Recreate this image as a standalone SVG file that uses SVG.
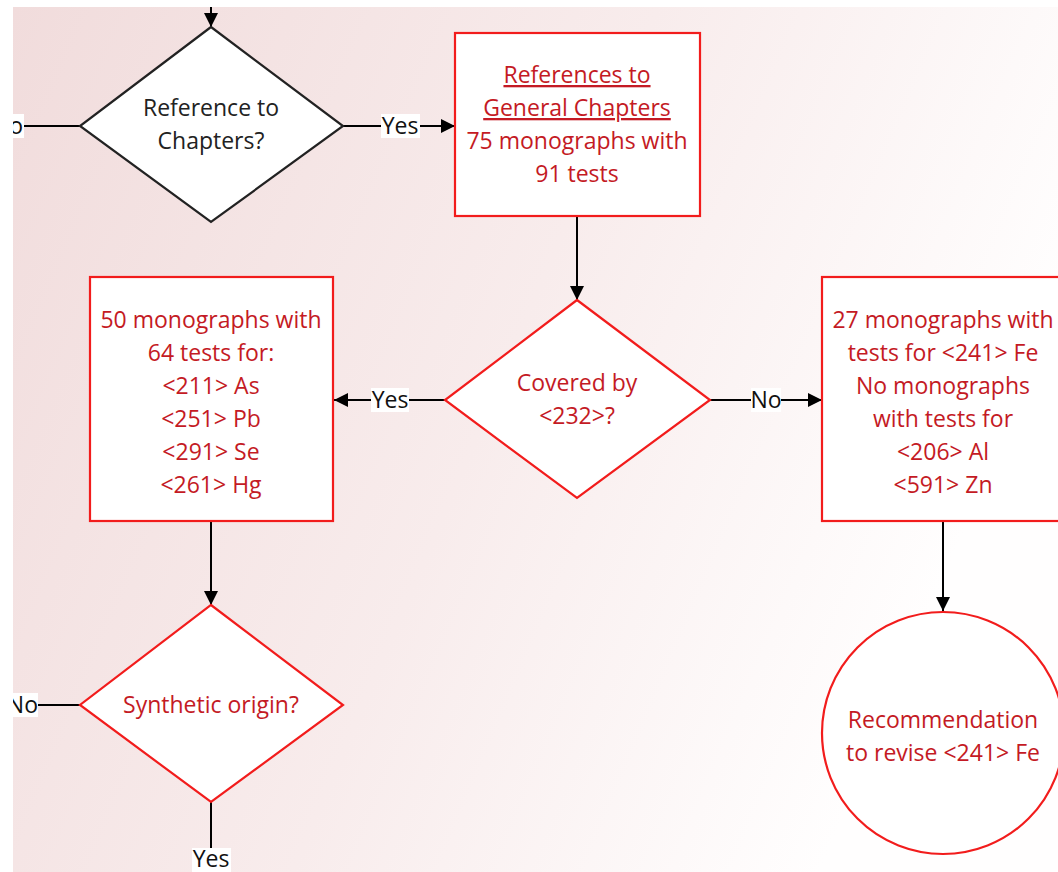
<svg xmlns="http://www.w3.org/2000/svg" width="1058" height="872" viewBox="0 0 1058 872">
  <defs>
    <linearGradient id="bg" x1="0" y1="0" x2="1" y2="0.35">
      <stop offset="0" stop-color="#f1dcdc"/>
      <stop offset="0.55" stop-color="#f8ecec"/>
      <stop offset="1" stop-color="#fffefe"/>
    </linearGradient>
    <clipPath id="page">
      <rect x="13" y="7" width="1045" height="865"/>
    </clipPath>
    <marker id="arrow" viewBox="0 0 14 14" refX="14" refY="7" markerWidth="14" markerHeight="14" markerUnits="userSpaceOnUse" orient="auto">
      <path d="M0,0 L14,7 L0,14 Z" fill="#000"/>
    </marker>
    <style>
      text { font-family: "Open Sans", "Liberation Sans", sans-serif; font-size: 23px; text-anchor: middle; }
      .red { fill: #c41a24; }
      .dark { fill: #222; }
      .shape-red { fill: #fff; stroke: #f21c1c; stroke-width: 2.2; }
      .shape-black { fill: #fff; stroke: #222; stroke-width: 2.2; }
      .conn { stroke: #000; stroke-width: 2; fill: none; }
      .lbl-bg { fill: #fff; }
      .lbl { fill: #111; }
    </style>
  </defs>

  <rect width="1058" height="872" fill="#fff"/>
  <g clip-path="url(#page)">
    <rect x="13" y="7" width="1045" height="865" fill="url(#bg)"/>

    <!-- connectors -->
    <g id="connectors">
      <line class="conn" x1="211" y1="0" x2="211" y2="27" marker-end="url(#arrow)"/>
      <line class="conn" x1="24" y1="126" x2="80" y2="126"/>
      <line class="conn" x1="343" y1="126" x2="455" y2="126" marker-end="url(#arrow)"/>
      <line class="conn" x1="577" y1="216" x2="577" y2="300" marker-end="url(#arrow)"/>
      <line class="conn" x1="445" y1="400" x2="334" y2="400" marker-end="url(#arrow)"/>
      <line class="conn" x1="710" y1="400" x2="822" y2="400" marker-end="url(#arrow)"/>
      <line class="conn" x1="211" y1="521" x2="211" y2="605" marker-end="url(#arrow)"/>
      <line class="conn" x1="943" y1="521" x2="943" y2="611" marker-end="url(#arrow)"/>
      <line class="conn" x1="38" y1="705" x2="80" y2="705"/>
      <line class="conn" x1="211" y1="802" x2="211" y2="848"/>

      <!-- connector labels -->
      <rect class="lbl-bg" x="0" y="114" width="24" height="24"/>
      <text class="lbl" x="23" y="134" style="text-anchor:end">No</text>
      <rect class="lbl-bg" x="381" y="114" width="39" height="24"/>
      <text class="lbl" x="400" y="134">Yes</text>
      <rect class="lbl-bg" x="371" y="388" width="38" height="24"/>
      <text class="lbl" x="390" y="408">Yes</text>
      <rect class="lbl-bg" x="751" y="388" width="30" height="24"/>
      <text class="lbl" x="766" y="408">No</text>
      <rect class="lbl-bg" x="10" y="693" width="28" height="24"/>
      <text class="lbl" x="38" y="713" style="text-anchor:end">No</text>
      <rect class="lbl-bg" x="192" y="848" width="39" height="24"/>
      <text class="lbl" x="211" y="867">Yes</text>
    </g>

    <!-- decision: reference to chapters -->
    <g id="node-reference">
      <polygon class="shape-black" points="211,27 343,126 211,222 80,126"/>
      <text class="dark" x="211" y="116">Reference to</text>
      <text class="dark" x="211" y="149">Chapters?</text>
    </g>

    <!-- general chapters box -->
    <g id="node-general-chapters">
      <rect class="shape-red" x="455" y="33" width="245" height="183"/>
      <text class="red" x="577" y="83" text-decoration="underline">References to</text>
      <text class="red" x="577" y="116" text-decoration="underline">General Chapters</text>
      <text class="red" x="577" y="149">75 monographs with</text>
      <text class="red" x="577" y="182">91 tests</text>
    </g>

    <!-- decision: covered by 232 -->
    <g id="node-covered">
      <polygon class="shape-red" points="577,300 710,400 577,498 445,400"/>
      <text class="red" x="577" y="391">Covered by</text>
      <text class="red" x="577" y="424">&lt;232&gt;?</text>
    </g>

    <!-- elements covered -->
    <g id="node-covered-tests">
      <rect class="shape-red" x="90" y="277" width="243" height="244"/>
      <text class="red" x="211" y="328">50 monographs with</text>
      <text class="red" x="211" y="361">64 tests for:</text>
      <text class="red" x="211" y="394">&lt;211&gt; As</text>
      <text class="red" x="211" y="427">&lt;251&gt; Pb</text>
      <text class="red" x="211" y="460">&lt;291&gt; Se</text>
      <text class="red" x="211" y="493">&lt;261&gt; Hg</text>
    </g>

    <!-- elements not covered -->
    <g id="node-not-covered">
      <rect class="shape-red" x="822" y="277" width="243" height="244"/>
      <text class="red" x="943" y="328">27 monographs with</text>
      <text class="red" x="943" y="361">tests for &lt;241&gt; Fe</text>
      <text class="red" x="943" y="394">No monographs</text>
      <text class="red" x="943" y="427">with tests for</text>
      <text class="red" x="943" y="460">&lt;206&gt; Al</text>
      <text class="red" x="943" y="493">&lt;591&gt; Zn</text>
    </g>

    <!-- decision: synthetic origin -->
    <g id="node-synthetic">
      <polygon class="shape-red" points="211,605 343,705 211,802 80,705"/>
      <text class="red" x="211" y="713">Synthetic origin?</text>
    </g>

    <!-- recommendation -->
    <g id="node-recommendation">
      <circle class="shape-red" cx="943" cy="733" r="121"/>
      <text class="red" x="943" y="728">Recommendation</text>
      <text class="red" x="943" y="761">to revise &lt;241&gt; Fe</text>
    </g>
  </g>
</svg>
